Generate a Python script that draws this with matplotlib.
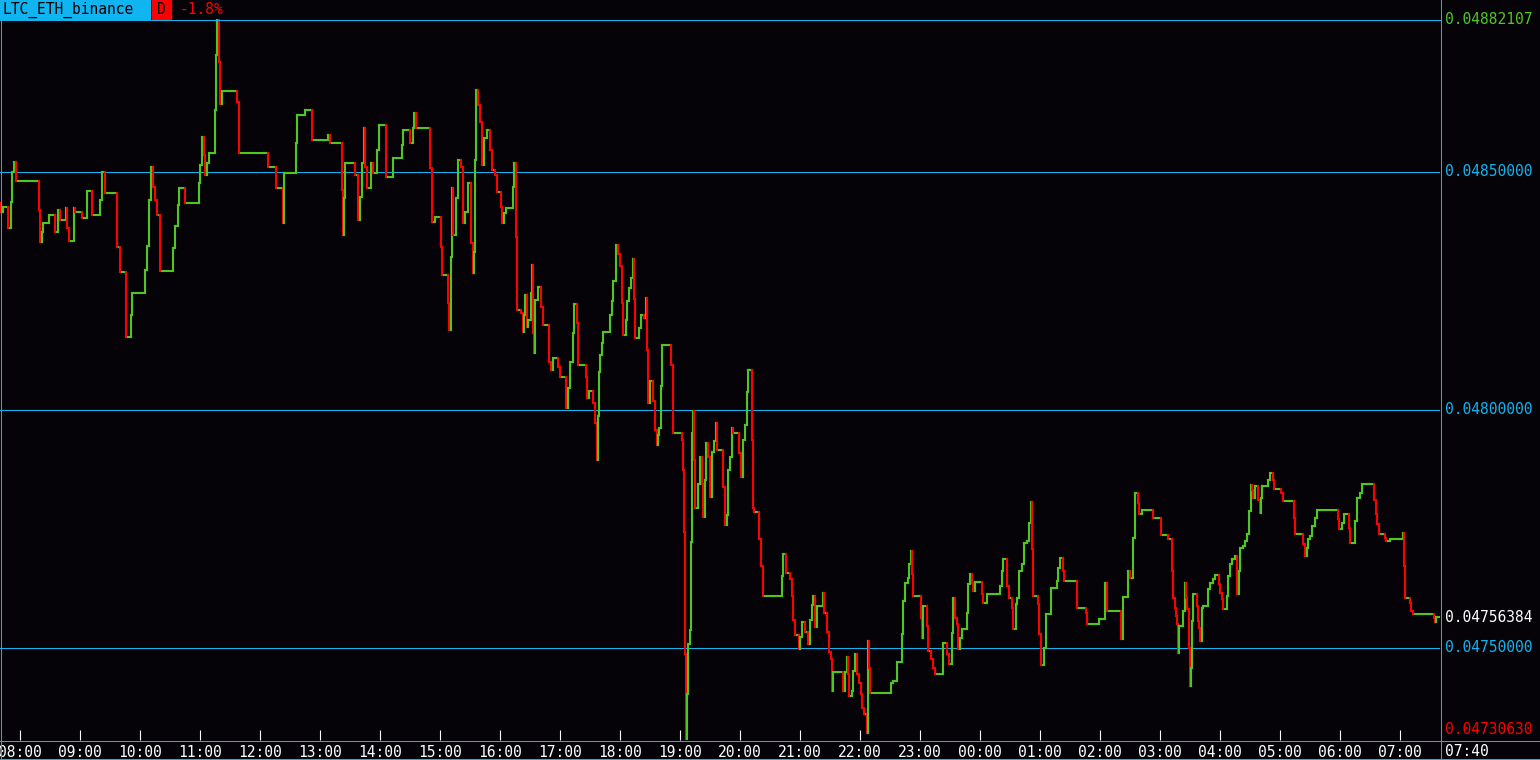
import matplotlib.pyplot as plt
from matplotlib.lines import Line2D
from matplotlib.patches import Rectangle
from matplotlib.transforms import blended_transform_factory

# header
pair_name = "LTC_ETH_binance"
period = "D"
change_text = "-1.8%"

# minutes after 07:40 at which the price changed
minutes = [
    0, 1, 3, 8, 11, 12, 14, 16, 39, 40,
    42, 43, 49, 55, 58, 60, 66, 67, 69, 74,
    75, 82, 87, 92, 100, 102, 105, 117, 120, 126,
    131, 132, 145, 147, 149, 151, 153, 155, 157, 160,
    173, 175, 178, 179, 185, 199, 200, 202, 204, 205,
    207, 209, 215, 216, 217, 219, 220, 222, 237, 239,
    268, 276, 283, 284, 296, 297, 305, 312, 328, 330,
    342, 343, 344, 345, 355, 358, 360, 362, 364, 365,
    367, 371, 373, 377, 379, 386, 393, 402, 403, 410,
    413, 414, 416, 430, 432, 435, 441, 442, 448, 449,
    451, 452, 453, 456, 458, 461, 463, 465, 468, 471,
    473, 474, 475, 476, 478, 480, 482, 484, 487, 490,
    492, 495, 497, 501, 502, 504, 506, 513, 514, 516,
    517, 521, 523, 524, 525, 527, 528, 531, 532, 533,
    534, 535, 538, 541, 543, 549, 551, 553, 558, 560,
    566, 568, 570, 573, 574, 577, 578, 586, 587, 589,
    593, 595, 597, 598, 599, 600, 602, 603, 610, 612,
    613, 616, 618, 620, 622, 623, 626, 627, 629, 631,
    633, 634, 635, 639, 641, 644, 646, 647, 648, 650,
    653, 655, 657, 658, 659, 661, 662, 671, 673, 682,
    683, 684, 685, 686, 687, 688, 690, 691, 692, 693,
    694, 695, 698, 700, 702, 703, 705, 706, 708, 710,
    712, 714, 716, 717, 723, 725, 727, 728, 730, 732,
    733, 739, 741, 743, 745, 747, 748, 752, 753, 754,
    759, 761, 763, 782, 783, 786, 790, 792, 793, 795,
    799, 800, 802, 805, 808, 810, 812, 813, 815, 817,
    823, 824, 827, 829, 831, 832, 833, 843, 845, 847,
    848, 849, 852, 853, 855, 857, 859, 861, 862, 864,
    867, 868, 869, 870, 891, 893, 897, 902, 903, 905,
    908, 909, 911, 912, 913, 921, 922, 923, 927, 928,
    931, 933, 935, 943, 947, 949, 952, 953, 955, 957,
    958, 960, 962, 967, 968, 970, 972, 973, 975, 982,
    983, 987, 1000, 1002, 1003, 1007, 1009, 1012, 1013, 1016,
    1017, 1019, 1022, 1024, 1027, 1029, 1031, 1032, 1033, 1038,
    1039, 1041, 1044, 1046, 1051, 1057, 1058, 1060, 1063, 1064,
    1077, 1086, 1087, 1099, 1105, 1107, 1121, 1123, 1128, 1130,
    1133, 1135, 1138, 1139, 1142, 1153, 1161, 1168, 1172, 1173,
    1175, 1176, 1177, 1178, 1179, 1183, 1185, 1186, 1187, 1189,
    1190, 1191, 1192, 1193, 1197, 1198, 1199, 1200, 1202, 1203,
    1208, 1210, 1213, 1215, 1219, 1220, 1222, 1223, 1227, 1228,
    1230, 1232, 1235, 1237, 1239, 1240, 1243, 1245, 1247, 1249,
    1251, 1252, 1253, 1255, 1258, 1260, 1261, 1262, 1268, 1270,
    1273, 1274, 1281, 1283, 1294, 1295, 1303, 1305, 1307, 1308,
    1310, 1312, 1315, 1317, 1338, 1339, 1342, 1344, 1349, 1350,
    1355, 1357, 1360, 1362, 1374, 1376, 1377, 1379, 1385, 1386,
    1390, 1403, 1404, 1405, 1410, 1411, 1413, 1434, 1435, 1436,
]

prices = [
    0.0484347, 0.0484158, 0.0484263, 0.0483821, 0.0484368, 0.0485000, 0.0485211, 0.0484811, 0.0484200, 0.0483526,
    0.0483737, 0.0483926, 0.0484095, 0.0483737, 0.0484200, 0.0483989, 0.0484242, 0.0483821, 0.0483547, 0.0484242,
    0.0484158, 0.0484032, 0.0484600, 0.0484095, 0.0484411, 0.0485000, 0.0484558, 0.0483421, 0.0482895, 0.0481526,
    0.0481989, 0.0482453, 0.0482937, 0.0483442, 0.0484411, 0.0485105, 0.0484684, 0.0484411, 0.0484095, 0.0482916,
    0.0483400, 0.0483863, 0.0484305, 0.0484663, 0.0484347, 0.0484768, 0.0485147, 0.0485737, 0.0485358, 0.0484937,
    0.0485189, 0.0485400, 0.0486305, 0.0487463, 0.04882107, 0.0487316, 0.0486432, 0.0486705, 0.0486474, 0.0485400,
    0.0485105, 0.0484663, 0.0483926, 0.0484979, 0.0485611, 0.0486200, 0.0486305, 0.0485674, 0.0485779, 0.0485611,
    0.0484621, 0.0483674, 0.0484453, 0.0485189, 0.0484937, 0.0483989, 0.0484474, 0.0485189, 0.0485926, 0.0485105,
    0.0484663, 0.0485189, 0.0484979, 0.0485463, 0.0485990, 0.0484895, 0.0485295, 0.0485568, 0.0485884, 0.0485611,
    0.0485926, 0.0486242, 0.0485926, 0.0485084, 0.0483947, 0.0484053, 0.0483421, 0.0482832, 0.0482242, 0.0481674,
    0.0483211, 0.0484663, 0.0483674, 0.0484453, 0.0485253, 0.0485105, 0.0483926, 0.0484158, 0.0484768, 0.0483505,
    0.0482874, 0.0483316, 0.0485253, 0.0486726, 0.0486411, 0.0486053, 0.0485147, 0.0485716, 0.0485884, 0.0485463,
    0.0485042, 0.0484937, 0.0484579, 0.0484263, 0.0483926, 0.0484137, 0.0484242, 0.0484684, 0.0485189, 0.0483632,
    0.0482095, 0.0482032, 0.0481632, 0.0481989, 0.0482411, 0.0481737, 0.0481884, 0.0482453, 0.0483042, 0.0481611,
    0.0481189, 0.0482305, 0.0482579, 0.0482158, 0.0481779, 0.0481000, 0.0480832, 0.0481084, 0.0480895, 0.0480684,
    0.0480032, 0.0480453, 0.0481000, 0.0481611, 0.0482221, 0.0481821, 0.0480937, 0.0480684, 0.0480242, 0.0480389,
    0.0480137, 0.0479716, 0.0478937, 0.0479863, 0.0480789, 0.0481147, 0.0481400, 0.0481632, 0.0481989, 0.0482284,
    0.0482705, 0.0483463, 0.0483274, 0.0483021, 0.0482242, 0.0481568, 0.0481884, 0.0482284, 0.0482558, 0.0482768,
    0.0483168, 0.0482326, 0.0481505, 0.0481716, 0.0481989, 0.0481926, 0.0482347, 0.0481253, 0.0480137, 0.0480600,
    0.0480179, 0.0479568, 0.0479253, 0.0479463, 0.0479610, 0.0480495, 0.0481358, 0.0480937, 0.0479505, 0.0479358,
    0.0478726, 0.0477442, 0.0474874, 0.0473063, 0.0474031, 0.0475084, 0.0475379, 0.0477231, 0.0479505, 0.0479968,
    0.0478937, 0.0477947, 0.0478432, 0.0479000, 0.0478432, 0.0477758, 0.0478516, 0.0479295, 0.0479000, 0.0478158,
    0.0479105, 0.0479337, 0.0479716, 0.0479147, 0.0478368, 0.0477589, 0.0477800, 0.0478726, 0.0479000, 0.0479610,
    0.0479505, 0.0479084, 0.0478579, 0.0479358, 0.0479674, 0.0480368, 0.0480832, 0.0479358, 0.0477947, 0.0477863,
    0.0477295, 0.0476726, 0.0476095, 0.0476516, 0.0476979, 0.0476579, 0.0476453, 0.0476095, 0.0475589, 0.0475274,
    0.0474979, 0.0475231, 0.0475547, 0.0475337, 0.0475084, 0.0475589, 0.0475905, 0.0476095, 0.0475442, 0.0475884,
    0.0476158, 0.0475737, 0.0475337, 0.0474916, 0.0474768, 0.0474095, 0.0474495, 0.0474095, 0.0474495, 0.0474810,
    0.0474452, 0.0473989, 0.0474095, 0.0474516, 0.0474874, 0.0474452, 0.0474263, 0.0474031, 0.0473737, 0.0473610,
    0.0473210, 0.0475147, 0.0474579, 0.0474052, 0.0474263, 0.0474305, 0.0474705, 0.0475295, 0.0475989, 0.0476368,
    0.0476474, 0.0476768, 0.0477042, 0.0476558, 0.0476095, 0.0475631, 0.0475210, 0.0475884, 0.0475463, 0.0474937,
    0.0474768, 0.0474579, 0.0474452, 0.0475105, 0.0474874, 0.0474663, 0.0475316, 0.0476053, 0.0475631, 0.0475505,
    0.0474979, 0.0475210, 0.0475400, 0.0475737, 0.0476347, 0.0476558, 0.0476368, 0.0476200, 0.0476389, 0.0476137,
    0.0475947, 0.0476137, 0.0476305, 0.0476621, 0.0476874, 0.0476305, 0.0476053, 0.0475842, 0.0475400, 0.0475926,
    0.0476053, 0.0476621, 0.0476768, 0.0477210, 0.0477253, 0.0477631, 0.0478053, 0.0477084, 0.0476095, 0.0475926,
    0.0475295, 0.0474642, 0.0475000, 0.0475716, 0.0476263, 0.0476410, 0.0476684, 0.0476895, 0.0476621, 0.0476410,
    0.0475842, 0.0475737, 0.0475505, 0.0475610, 0.0476368, 0.0475779, 0.0475189, 0.0476074, 0.0476621, 0.0476474,
    0.0477316, 0.0478242, 0.0478032, 0.0477821, 0.0477905, 0.0477737, 0.0477379, 0.0477295, 0.0476621, 0.0476053,
    0.0475842, 0.0475674, 0.0475505, 0.0474895, 0.0475463, 0.0475779, 0.0476368, 0.0476053, 0.0475821, 0.0475000,
    0.0474200, 0.0474579, 0.0475568, 0.0476137, 0.0475884, 0.0475568, 0.0475421, 0.0475147, 0.0475842, 0.0475884,
    0.0476242, 0.0476368, 0.0476453, 0.0476537, 0.0476347, 0.0476158, 0.0476031, 0.0475821, 0.0476095, 0.0476516,
    0.0476768, 0.0476874, 0.0476937, 0.0476137, 0.0476621, 0.0477105, 0.0477147, 0.0477253, 0.0477400, 0.0477884,
    0.0478410, 0.0478305, 0.0478137, 0.0478389, 0.0478095, 0.0477842, 0.0478137, 0.0478389, 0.0478516, 0.0478663,
    0.0478516, 0.0478326, 0.0478242, 0.0478074, 0.0477737, 0.0477400, 0.0477189, 0.0476937, 0.0477105, 0.0477295,
    0.0477358, 0.0477568, 0.0477737, 0.0477905, 0.0477716, 0.0477505, 0.0477631, 0.0477821, 0.0477526, 0.0477210,
    0.0477674, 0.0478137, 0.0478242, 0.0478432, 0.0478095, 0.0477821, 0.0477610, 0.0477400, 0.0477316, 0.0477253,
    0.0477295, 0.0477421, 0.0476726, 0.0476053, 0.0475947, 0.0475779, 0.0475716, 0.0475631, 0.0475547, 0.04756384,
]

hour_labels = ["08:00", "09:00", "10:00", "11:00", "12:00", "13:00", "14:00", "15:00",
               "16:00", "17:00", "18:00", "19:00", "20:00", "21:00", "22:00", "23:00",
               "00:00", "01:00", "02:00", "03:00", "04:00", "05:00", "06:00", "07:00"]
end_label = "07:40"
grid_prices = [0.0485, 0.0480, 0.0475]
high_price = 0.04882107
low_price = 0.04730630
last_price = 0.04756384

# colours / layout
BG = "#050307"
CYAN = "#10b4f0"
GREEN = "#4ec81e"
RED = "#ff0000"
W, H = 1540, 760

plt.rcParams["font.family"] = ["DejaVu Sans Mono"]
plt.rcParams["font.size"] = 10.5

fig = plt.figure(figsize=(W / 100, H / 100), dpi=100, facecolor=BG)
ax = fig.add_axes([0, 20 / H, 1440 / W, 721 / H], facecolor=BG)
ax.set_xlim(0, 1440)
ax.set_ylim(low_price, high_price)
for s in ax.spines.values():
    s.set_visible(False)

for p in grid_prices:
    ax.axhline(p, color=CYAN, lw=0.75, zorder=1)

# step line: flat parts green, jumps red (down) or green (up)
ends = minutes[1:] + [1440]
ax.hlines(prices, minutes, ends, color=GREEN, lw=1.5, zorder=2, capstyle="projecting")
step_colors = [RED if b < a else GREEN for a, b in zip(prices[:-1], prices[1:])]
ax.vlines(minutes[1:], prices[:-1], prices[1:], colors=step_colors, lw=1.5, zorder=3,
          capstyle="projecting")

# time axis
tick_pos = [20 + 60 * i for i in range(len(hour_labels))]
ax.set_xticks(tick_pos, hour_labels)
ax.tick_params(axis="x", direction="in", length=7.5, width=0.8, color="white",
               labelcolor="white", pad=3.5, labelsize=10.5)
ax.set_yticks([])

# price labels on the right
trans = blended_transform_factory(ax.transAxes, ax.transData)
for p in grid_prices:
    ax.text(1.0035, p, f"{p:.8f}", transform=trans, color=CYAN, va="center", ha="left", clip_on=False)
ax.text(1.0035, high_price, f"{high_price:.8f}", transform=trans, color=GREEN, va="center",
        ha="left", clip_on=False)
ax.text(1.0035, last_price, f"{last_price:.8f}", transform=trans, color="white", va="center",
        ha="left", clip_on=False)
fig.text(1445 / W, 1 - 730 / H, f"{low_price:.8f}", color=RED, va="center", ha="left")
fig.text(1445 / W, 1 - 751 / H, end_label, color="white", va="center", ha="left")


def fig_line(x0, y0, x1, y1):
    fig.add_artist(Line2D([x0 / W, x1 / W], [1 - y0 / H, 1 - y1 / H], color=CYAN, lw=0.75))


# frame
fig_line(0, 19.5, 1440, 19.5)
fig_line(1440.5, 0, 1440.5, 760)
fig_line(0, 740.5, 1540, 740.5)
fig_line(0, 759, 1540, 759)
fig_line(1, 19, 1, 760)

# header boxes
fig.add_artist(Rectangle((0, 1 - 19 / H), 150 / W, 19 / H, transform=fig.transFigure, color=CYAN))
fig.add_artist(Rectangle((152 / W, 1 - 19 / H), 19 / W, 19 / H, transform=fig.transFigure, color=RED))
fig.text(3 / W, 1 - 10 / H, pair_name, color="black", va="center", ha="left")
fig.text(161.5 / W, 1 - 10 / H, period, color="black", va="center", ha="center")
fig.text(179 / W, 1 - 10 / H, change_text, color=RED, va="center", ha="left")

fig.savefig("out.png", dpi=100, facecolor=BG)
